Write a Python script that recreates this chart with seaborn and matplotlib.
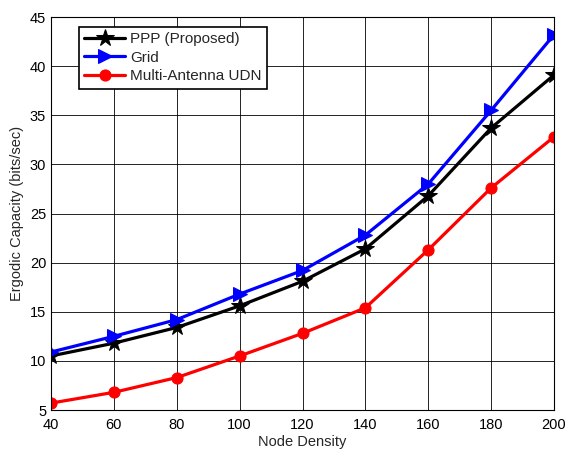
import matplotlib
matplotlib.use("Agg")
import matplotlib.pyplot as plt
import seaborn as sns
import pandas as pd

node_density = [40, 60, 80, 100, 120, 140, 160, 180, 200]
ppp = [10.5, 11.8, 13.4, 15.6, 18.1, 21.4, 26.8, 33.7, 39.1]
grid = [10.9, 12.5, 14.2, 16.8, 19.2, 22.8, 28.0, 35.5, 43.2]
multi = [5.7, 6.8, 8.3, 10.5, 12.8, 15.4, 21.3, 27.6, 32.8]
series_names = ["PPP (Proposed)", "Grid", "Multi-Antenna UDN"]
x_ticks = [40, 60, 80, 100, 120, 140, 160, 180, 200]
y_ticks = [5, 10, 15, 20, 25, 30, 35, 40, 45]

sns.set_style("white")
plt.rcParams['font.family'] = ['Liberation Sans', 'DejaVu Sans']
plt.rcParams['font.size'] = 10

df = pd.DataFrame({
    "Node Density": node_density * 3,
    "value": ppp + grid + multi,
    "series": [series_names[0]] * 9 + [series_names[1]] * 9 + [series_names[2]] * 9,
})

fig = plt.figure(figsize=(5.69, 4.54), dpi=100)
ax = fig.add_axes([51/569, 1 - 410/454, (554-51)/569, (410-17)/454])

styles = {
    series_names[0]: dict(color="black", marker="*", ms=13),
    series_names[1]: dict(color="blue", marker=">", ms=10),
    series_names[2]: dict(color="red", marker="o", ms=8),
}
for name in series_names:
    sub = df[df["series"] == name]
    st = styles[name]
    sns.lineplot(data=sub, x="Node Density", y="value", ax=ax, color=st["color"],
                 marker=st["marker"], markersize=st["ms"], markeredgecolor=st["color"],
                 linewidth=2.3, label=name)

ax.set_xlim(40, 200)
ax.set_ylim(5, 45)
ax.set_xticks(x_ticks)
ax.set_yticks(y_ticks)
ax.grid(True, color="black", linewidth=0.6, linestyle="-")
ax.set_axisbelow(True)
for s in ax.spines.values():
    s.set_color("black")
    s.set_linewidth(0.8)
ax.tick_params(direction="in", length=4, colors="black", labelsize=10.5)
ax.tick_params(axis="x", pad=6)
ax.set_xlabel("Node Density", fontsize=10.5, labelpad=2)
ax.set_ylabel("Ergodic Capacity (bits/sec)", fontsize=10.5)

leg = ax.legend(loc="upper left", bbox_to_anchor=(0.055, 0.975), frameon=True,
                fancybox=False, edgecolor="black", framealpha=1, fontsize=11,
                handlelength=2.7, borderpad=0.35, labelspacing=0.3, handletextpad=0.3,
                borderaxespad=0)
leg.get_frame().set_linewidth(1.2)

fig.savefig("out.png", dpi=100)
